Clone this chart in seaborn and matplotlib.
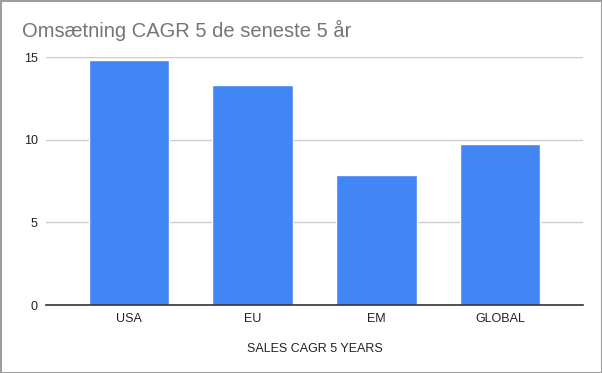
import pandas as pd
import seaborn as sns
from matplotlib import pyplot as plt
from matplotlib.patches import Rectangle

regions = ["USA", "EU", "EM", "GLOBAL"]
cagr = [14.8, 13.3, 7.85, 9.75]
yticks = [0, 5, 10, 15]

df = pd.DataFrame({"Region": regions, "CAGR": cagr})

sns.set_theme(style="white")
plt.rcParams['font.family'] = ['Liberation Sans', 'DejaVu Sans']

fig = plt.figure(figsize=(6.02, 3.73), dpi=100)
ax = fig.add_axes([46 / 602, 68 / 373, 537 / 602, 248 / 373])

sns.barplot(x="Region", y="CAGR", data=df, color="#4285F4", saturation=1,
            width=0.65, ax=ax, zorder=3)

ax.set_xlim(-0.67, 3.67)
ax.set_ylim(0, 15)
ax.set_yticks(yticks)
ax.set_yticklabels([str(t) for t in yticks])
ax.yaxis.grid(True, color="#cccccc", linewidth=1, zorder=0)
ax.xaxis.grid(False)
for s in ["top", "right", "left"]:
    ax.spines[s].set_visible(False)
ax.spines["bottom"].set_color("#333333")
ax.spines["bottom"].set_linewidth(1.2)
ax.spines["bottom"].set_zorder(4)
ax.tick_params(axis="both", length=0, labelsize=9, colors="#222222")
ax.tick_params(axis="y", pad=6)
ax.tick_params(axis="x", pad=6)

ax.set_ylabel("")
ax.set_xlabel("SALES CAGR 5 YEARS", fontsize=9, color="#222222", labelpad=13)

fig.text(22 / 602, 1 - 30 / 373, "Omsætning CAGR 5 de seneste 5 år",
         fontsize=14.5, color="#757575", va="center", ha="left")

# thin gray frame around the figure
fig.patches.append(Rectangle((0.5 / 602, 0.5 / 373), 1 - 1 / 602, 1 - 1 / 373,
                             transform=fig.transFigure, fill=False,
                             edgecolor="#9e9e9e", linewidth=1.5))

plt.savefig("out.png", dpi=100)
